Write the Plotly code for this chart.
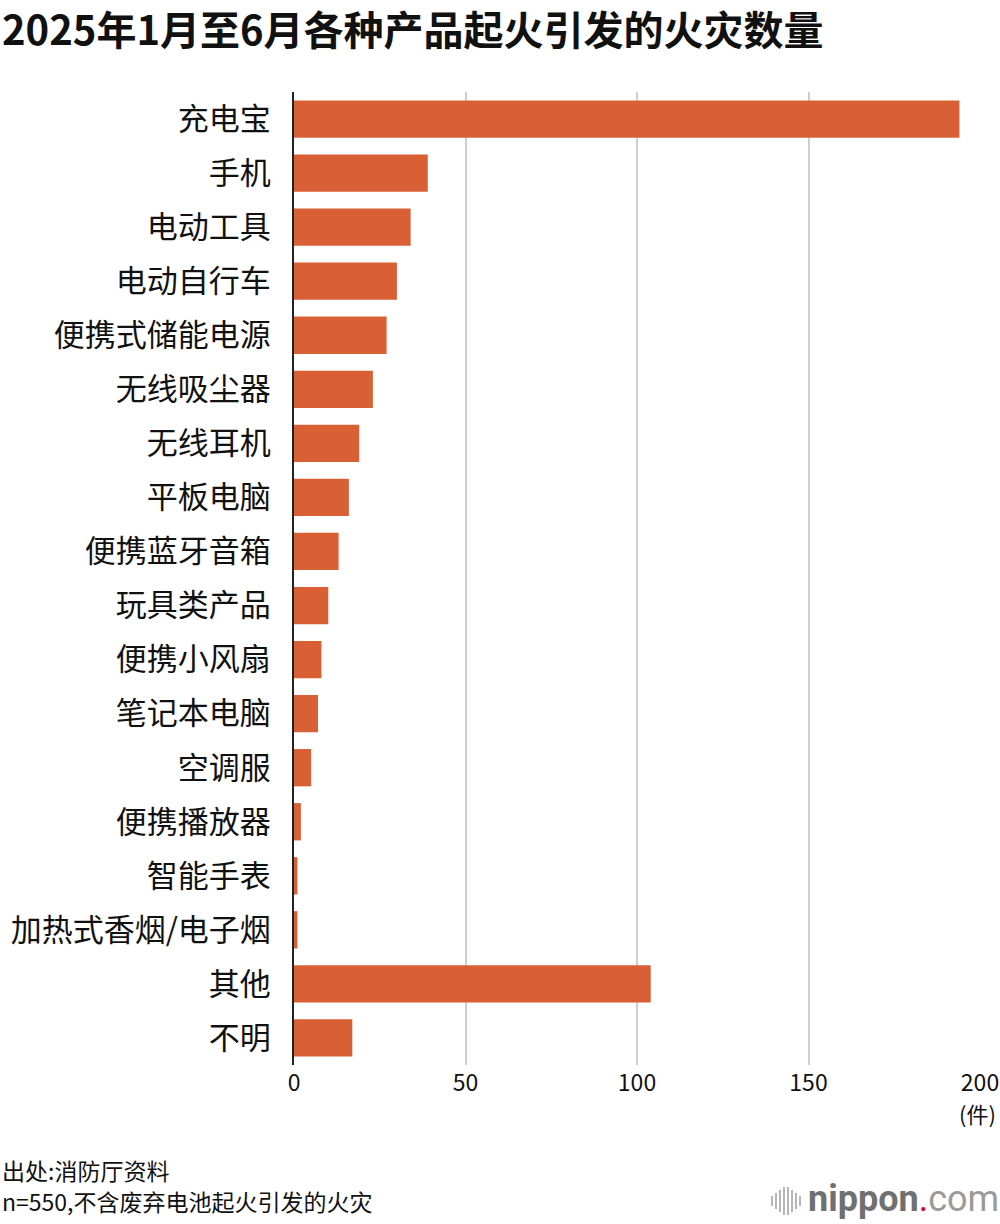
import plotly.graph_objects as go

categories = ["充电宝", "手机", "电动工具", "电动自行车", "便携式储能电源", "无线吸尘器", "无线耳机",
              "平板电脑", "便携蓝牙音箱", "玩具类产品", "便携小风扇", "笔记本电脑", "空调服",
              "便携播放器", "智能手表", "加热式香烟/电子烟", "其他", "不明"]
values = [194, 39, 34, 30, 27, 23, 19, 16, 13, 10, 8, 7, 5, 2, 1, 1, 104, 17]
tick_vals = [0, 50, 100, 150, 200]

title = "2025年1月至6月各种产品起火引发的火灾数量"
unit = "(件)"
source = "出处:消防厅资料"
note = "n=550,不含废弃电池起火引发的火灾"

FONT = "Noto Sans CJK SC"
W, H = 1000, 1224
L, R, T, B = 294, 20, 92, 159
PW, PH = W - L - R, H - T - B


def px_x(x):
    return (x - L) / PW


def px_y(y):
    return (H - B - y) / PH


fig = go.Figure(go.Bar(
    x=values, y=categories, orientation="h",
    marker=dict(color="#D95F35", line=dict(width=0)),
    hoverinfo="x+y",
))

fig.update_layout(
    width=W, height=H, autosize=False,
    paper_bgcolor="white", plot_bgcolor="white",
    margin=dict(l=L, r=R, t=T, b=B, autoexpand=False),
    bargap=0.31,
    showlegend=False,
    font=dict(family=FONT, color="#111"),
    xaxis=dict(range=[0, 200], tickvals=tick_vals, showgrid=True, gridcolor="#CFCFCF",
               gridwidth=1.5, zeroline=False, showline=False, ticks="", automargin=False,
               tickfont=dict(size=23, color="#111", family=FONT), ticklabelstandoff=2,
               fixedrange=True),
    yaxis=dict(categoryorder="array", categoryarray=categories[::-1], automargin=False,
               showline=True, linecolor="#222", linewidth=2, ticks="",
               tickfont=dict(size=31, color="#111", family=FONT), ticklabelstandoff=15,
               showgrid=False, fixedrange=True),
)

fig.add_annotation(text="<b>" + title + "</b>", xref="paper", yref="paper",
                   x=px_x(1), y=px_y(28), xanchor="left", yanchor="middle", borderpad=0,
                   showarrow=False, font=dict(size=40, color="#111", family=FONT))
fig.add_annotation(text=unit, xref="paper", yref="paper", x=px_x(997), y=px_y(1113),
                   xanchor="right", yanchor="middle", borderpad=0, showarrow=False,
                   font=dict(size=22, color="#111", family=FONT))
fig.add_annotation(text=source, xref="paper", yref="paper", x=px_x(1), y=px_y(1170),
                   xanchor="left", yanchor="middle", showarrow=False, borderpad=0,
                   font=dict(size=23, color="#111", family=FONT))
fig.add_annotation(text=note, xref="paper", yref="paper", x=px_x(1), y=px_y(1201),
                   xanchor="left", yanchor="middle", showarrow=False, borderpad=0,
                   font=dict(size=23, color="#111", family=FONT))
fig.add_annotation(text="<b>nippon</b><span style='color:#E8002A'>.</span><span style='color:#9A9A9A'>com</span>",
                   xref="paper", yref="paper", x=px_x(1000), y=px_y(1199),
                   xanchor="right", yanchor="middle", showarrow=False, borderpad=0,
                   font=dict(size=36, color="#707070", family="Roboto"))
# sound-wave icon of logo
bar_heights = [10, 16, 22, 28, 28, 22, 16, 10]
for i, hgt in enumerate(bar_heights):
    x0 = 771 + i * 4
    fig.add_shape(type="rect", xref="paper", yref="paper",
                  x0=px_x(x0), x1=px_x(x0 + 2),
                  y0=px_y(1201 + hgt / 2), y1=px_y(1201 - hgt / 2),
                  fillcolor="#B5B5B5", line=dict(width=0))

fig.write_html("out.html", config={"displayModeBar": False},
               post_script="document.body.style.margin='0';document.body.style.overflow='hidden';")
